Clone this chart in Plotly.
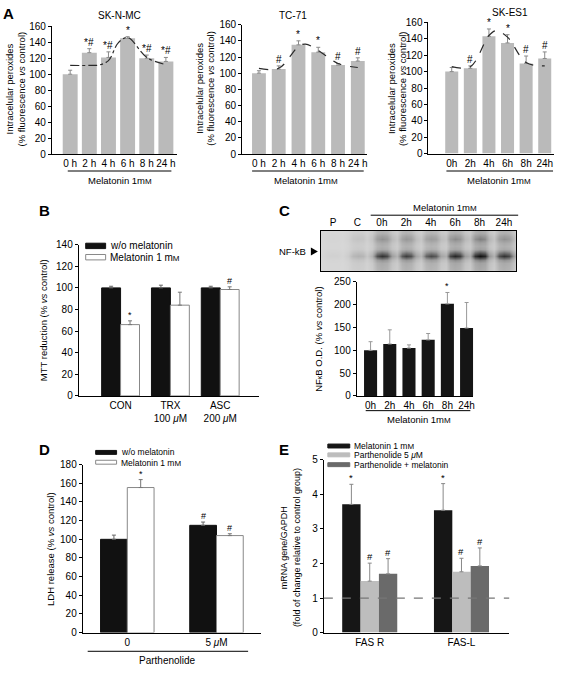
import plotly.graph_objects as go

W, H = 566, 673
FONT = "Liberation Sans, Arial, sans-serif"
MM = "m<span style='font-size:8px'>M</span>"

# ---------------- data ----------------
a_times = ["0 h", "2 h", "4 h", "6 h", "8 h", "24 h"]
a3_times = ["0h", "2h", "4h", "6h", "8h", "24h"]
a_titles = ["SK-N-MC", "TC-71", "SK-ES1"]
a1_vals = [100, 127, 121, 145, 120, 116]
a1_err = [5, 5, 7, 2, 4, 5]
a1_sig = ["", "*#", "*#", "*", "*#", "*#"]
a1_fit_x = [0, 1, 1.5, 2, 2.5, 3, 4, 5]
a1_fit_y = [111, 111, 111.5, 117, 139, 146, 121, 112]

a2_vals = [100, 105, 135, 126, 110, 115]
a2_err = [3, 4, 5, 6, 2, 4]
a2_sig = ["", "#", "*", "*", "#", "#"]
a2_fit_x = [0, 1, 2, 2.35, 3, 4, 5]
a2_fit_y = [106, 106, 133, 136, 128, 112, 107]

a3_vals = [100, 104, 143, 135, 110, 116]
a3_err = [5, 3, 9, 10, 9, 8]
a3_sig = ["", "#", "*", "*", "#", "#"]
a3_fit_x = [0, 1, 2, 2.4, 3, 4, 5]
a3_fit_y = [106, 106, 144, 150, 142, 111, 107]

b_groups = ["CON", "TRX<br>100 <i>μ</i>M", "ASC<br>200 <i>μ</i>M"]
b_without = [100, 100, 100]
b_without_err = [1.5, 2.5, 1.5]
b_with = [66, 84, 98.5]
b_with_err = [3.5, 12, 2.5]
b_with_sig = ["*", "", "#"]

c_times = ["0h", "2h", "4h", "6h", "8h", "24h"]
c_vals = [100, 114, 105, 123, 202, 149]
c_err = [19, 31, 7, 14, 25, 56]
c_sig = ["", "", "", "", "*", ""]

blot_lanes = ["P", "C", "0h", "2h", "4h", "6h", "8h", "24h"]
blot_lane_intensity = [0.05, 0.25, 0.85, 0.8, 0.75, 0.9, 1.0, 0.85]
blot_row_profile = [0.30, 0.42, 0.50, 0.35, 0.30, 0.35, 0.70, 0.95, 0.50, 0.35, 0.32, 0.30]
blot_sub_weight = [0.3, 0.85, 1.0, 0.9, 0.45]

d_groups = ["0", "5 <i>μ</i>M"]
d_without = [100, 115]
d_without_err = [4.5, 3.5]
d_without_sig = ["", "#"]
d_with = [155.5, 104]
d_with_err = [8.5, 2]
d_with_sig = ["*", "#"]

e_groups = ["FAS R", "FAS-L"]
e_mel = [3.71, 3.54]
e_mel_err = [0.58, 0.77]
e_par = [1.49, 1.76]
e_par_err = [0.52, 0.39]
e_comb = [1.70, 1.93]
e_comb_err = [0.44, 0.52]
e_ref = 1

# ---------------- helpers ----------------
def px(x):
    return x / W


def py(y):
    return 1 - y / H


def xdom(a, b):
    return [px(a), px(b)]


def ydom(top, bottom):
    return [py(bottom), py(top)]


annotations = []
shapes = []


def text(x, y, t, size=10, xanchor="center", yanchor="middle", angle=0, color="black"):
    annotations.append(dict(x=px(x), y=py(y), xref="paper", yref="paper", text=t,
                            showarrow=False, xanchor=xanchor, yanchor=yanchor,
                            textangle=angle, font=dict(size=size, family=FONT, color=color)))


def hline(x0, x1, y, color="black", width=1):
    shapes.append(dict(type="line", xref="paper", yref="paper", x0=px(x0), x1=px(x1),
                       y0=py(y), y1=py(y), line=dict(color=color, width=width)))


def rect(x0, y0, x1, y1, fill, line="black"):
    shapes.append(dict(type="rect", xref="paper", yref="paper", x0=px(x0), x1=px(x1),
                       y0=py(y1), y1=py(y0), fillcolor=fill, line=dict(color=line, width=1)))


def sig_ann(xa, ya, x, y, t, size=10):
    if t:
        annotations.append(dict(x=x, y=y, xref=xa, yref=ya, text=t, showarrow=False,
                                yanchor="bottom", yshift=-1,
                                font=dict(size=size, family=FONT, color="black")))


yax_base = dict(showline=True, linecolor="black", linewidth=1, ticks="outside", ticklen=3,
                tickcolor="black", tickwidth=1, showgrid=False, zeroline=False,
                tickfont=dict(size=10, family=FONT, color="black"))
xax_base = dict(showline=True, linecolor="black", linewidth=1, ticks="", showgrid=False,
                zeroline=False, tickfont=dict(size=10, family=FONT, color="black"),
                tickmode="array", tickangle=0)

fig = go.Figure()
layout = {}


def err(arr, color="#777777", width=2):
    return dict(type="data", symmetric=False, array=arr, arrayminus=[0] * len(arr),
                color=color, thickness=1, width=width)


# ---------------- Panel A ----------------
a_sets = [
    (a1_vals, a1_err, a1_sig, a1_fit_x, a1_fit_y, "dashdot", a_times),
    (a2_vals, a2_err, a2_sig, a2_fit_x, a2_fit_y, "dash", a_times),
    (a3_vals, a3_err, a3_sig, a3_fit_x, a3_fit_y, "dash", a3_times),
]
a_xdom = [(52, 178), (243, 368), (430, 556)]
a_ydom = [(20.7, 150.7), (19, 150.7), (16.7, 150.3)]
a_xr = [[-0.96, 5.6], [-0.85, 5.45], [-1.25, 5.5]]
a_bw = [0.78, 0.7, 0.7]
a_title_x = [120, 294, 512]
a_title_y = [10, 10, 7]
a_ytitle_x = [(10, 22), (200, 211), (393, 404)]
a_line = [(68, 172), (253, 365), (448, 555)]
a_mel_x = [120, 307, 501]

for i, (vals, errs, sig, fx, fy, dash, labels) in enumerate(a_sets):
    n = i + 1
    xa = "x" if n == 1 else f"x{n}"
    ya = "y" if n == 1 else f"y{n}"
    pos = list(range(len(labels)))
    fig.add_trace(go.Bar(x=pos, y=vals, width=a_bw[i], marker=dict(color="#bababa", line=dict(width=0)),
                         error_y=err(errs, "#8a8a8a", 2), xaxis=xa, yaxis=ya, showlegend=False))
    fig.add_trace(go.Scatter(x=fx, y=fy, mode="lines", line=dict(color="#2a2a2a", width=1.2, dash=dash, shape="spline"),
                             xaxis=xa, yaxis=ya, showlegend=False))
    for k in range(len(vals)):
        sig_ann(xa, ya, pos[k], vals[k] + errs[k], sig[k], 10)
    kx = "xaxis" if n == 1 else f"xaxis{n}"
    ky = "yaxis" if n == 1 else f"yaxis{n}"
    layout[kx] = dict(xax_base, domain=xdom(*a_xdom[i]), range=a_xr[i], anchor=ya,
                      tickvals=pos, ticktext=labels)
    layout[ky] = dict(yax_base, domain=ydom(*a_ydom[i]), range=[0, 160], dtick=20, anchor=xa)
    text(a_title_x[i], a_title_y[i], a_titles[i], 10)
    text(a_ytitle_x[i][0], 84, "Intracelular peroxides", 9.5, angle=-90)
    text(a_ytitle_x[i][1], 84, "(% fluorescence <i>vs</i> control)", 9.5, angle=-90)
    hline(a_line[i][0], a_line[i][1], 168)
    text(a_mel_x[i], 178, "Melatonin 1" + MM, 9.5)

text(1, 8, "<b>A</b>", 15, xanchor="left")

# ---------------- Panel B ----------------
b_pos = list(range(len(b_groups)))
b_w = 0.38
fig.add_trace(go.Bar(x=b_pos, y=b_without, width=b_w, offset=-b_w,
                     marker=dict(color="#111111", line=dict(color="#111111", width=1)),
                     error_y=err(b_without_err, "#666666", 2), xaxis="x4", yaxis="y4", showlegend=False))
fig.add_trace(go.Bar(x=b_pos, y=b_with, width=b_w, offset=0,
                     marker=dict(color="white", line=dict(color="#888888", width=1)),
                     error_y=err(b_with_err, "#777777", 2), xaxis="x4", yaxis="y4", showlegend=False))
for k in range(len(b_pos)):
    sig_ann("x4", "y4", b_pos[k] + b_w / 2, b_with[k] + b_with_err[k], b_with_sig[k], 9)
layout["xaxis4"] = dict(xax_base, domain=xdom(79, 260), range=[-0.84, 2.78], anchor="y4",
                        tickvals=b_pos, ticktext=b_groups)
layout["yaxis4"] = dict(yax_base, domain=ydom(243, 397), range=[0, 140], dtick=20, anchor="x4")
text(43, 320, "MTT reduction (% <i>vs</i> control)", 9.5, angle=-90)
rect(86, 241.5, 106, 247, "#111111", "#111111")
text(108, 244, "w/o melatonin", 10, xanchor="left")
rect(86, 253, 106, 258.5, "white", "#888888")
text(108, 256, "Melatonin 1 " + MM, 10, xanchor="left")
text(37, 208, "<b>B</b>", 15, xanchor="left")

# ---------------- Panel C ----------------
c_pos = list(range(len(c_times)))
fig.add_trace(go.Bar(x=c_pos, y=c_vals, width=0.68, marker=dict(color="#151515", line=dict(width=0)),
                     error_y=err(c_err, "#999999", 2), xaxis="x5", yaxis="y5", showlegend=False))
for k in range(len(c_pos)):
    sig_ann("x5", "y5", c_pos[k], c_vals[k] + c_err[k], c_sig[k], 9)
layout["xaxis5"] = dict(xax_base, domain=xdom(358, 475), range=[-0.72, 5.35], anchor="y5",
                        tickvals=c_pos, ticktext=c_times)
layout["yaxis5"] = dict(yax_base, domain=ydom(281, 397), range=[0, 250], dtick=50, anchor="x5")
text(320, 339, "NF<span style='font-size:7px'>κ</span>B O.D. (% <i>vs</i> control)", 9.5, angle=-90)
hline(367, 472, 412)
text(420, 421, "Melatonin 1" + MM, 9.5)
text(278, 208, "<b>C</b>", 15, xanchor="left")

# blot
nsub = len(blot_sub_weight)
bx, by, bz = [], [], []
for r, prof in enumerate(blot_row_profile):
    row = []
    for li, inten in enumerate(blot_lane_intensity):
        for sw in blot_sub_weight:
            row.append(min(1.0, 0.06 + prof * inten * sw))
    bz.append(row)
for li in range(len(blot_lanes)):
    for s in range(nsub):
        bx.append(li - 0.5 + (s + 0.5) / nsub)
by = list(range(len(blot_row_profile)))
fig.add_trace(go.Heatmap(x=bx, y=by, z=bz, colorscale=[[0, "#e2e2e2"], [0.45, "#9a9a9a"], [1, "#101010"]],
                         zmin=0, zmax=1, showscale=False, zsmooth="best", xaxis="x6", yaxis="y6",
                         hoverinfo="skip"))
layout["xaxis6"] = dict(xax_base, domain=xdom(322, 518), range=[-0.5, 7.5], anchor="y6", side="top",
                        mirror=True, tickvals=list(range(len(blot_lanes))), ticktext=blot_lanes)
layout["yaxis6"] = dict(showline=True, linecolor="black", linewidth=1, mirror=True, showgrid=False,
                        zeroline=False, showticklabels=False, ticks="", domain=ydom(229, 270),
                        range=[len(blot_row_profile) - 0.5, -0.5], anchor="x6")
text(447, 205, "Melatonin 1" + MM, 9.5)
hline(372, 520, 213)
text(278, 250, "NF-kB", 9.5, xanchor="left")
shapes.append(dict(type="path", xref="paper", yref="paper",
                   path=f"M {px(312)} {py(246)} L {px(319)} {py(250)} L {px(312)} {py(254)} Z",
                   fillcolor="black", line=dict(color="black", width=0)))

# ---------------- Panel D ----------------
d_pos = list(range(len(d_groups)))
d_w = 0.3
fig.add_trace(go.Bar(x=d_pos, y=d_without, width=d_w, offset=-d_w,
                     marker=dict(color="#111111", line=dict(color="#111111", width=1)),
                     error_y=err(d_without_err, "#666666", 2), xaxis="x7", yaxis="y7", showlegend=False))
fig.add_trace(go.Bar(x=d_pos, y=d_with, width=d_w, offset=0,
                     marker=dict(color="white", line=dict(color="#888888", width=1)),
                     error_y=err(d_with_err, "#777777", 2), xaxis="x7", yaxis="y7", showlegend=False))
for k in range(len(d_pos)):
    sig_ann("x7", "y7", d_pos[k] - d_w / 2, d_without[k] + d_without_err[k], d_without_sig[k], 9)
    sig_ann("x7", "y7", d_pos[k] + d_w / 2, d_with[k] + d_with_err[k], d_with_sig[k], 9)
layout["xaxis7"] = dict(xax_base, domain=xdom(83, 262), range=[-0.5, 1.5], anchor="y7",
                        tickvals=d_pos, ticktext=d_groups)
layout["yaxis7"] = dict(yax_base, domain=ydom(467, 638), range=[0, 180], dtick=20, anchor="x7")
text(50, 553, "LDH release (% <i>vs</i> control)", 9.5, angle=-90)
rect(96, 452.5, 117, 456.5, "#111111", "#111111")
text(119, 454, "w/o melatonin", 8.5, xanchor="left")
rect(96, 462.5, 117, 466.5, "white", "#888888")
text(119, 465, "Melatonin 1 " + MM, 8.5, xanchor="left")
hline(88, 249, 657)
text(168, 666, "Parthenolide", 10)
text(37, 452, "<b>D</b>", 15, xanchor="left")

# ---------------- Panel E ----------------
e_pos = list(range(len(e_groups)))
e_w = 0.2
e_series = [(e_mel, e_mel_err, "#161616", "*"), (e_par, e_par_err, "#bdbdbd", "#"),
            (e_comb, e_comb_err, "#6a6a6a", "#")]
for j, (vals, errs, col, s) in enumerate(e_series):
    off = -0.3 + j * e_w
    fig.add_trace(go.Bar(x=e_pos, y=vals, width=e_w, offset=off, marker=dict(color=col, line=dict(width=0)),
                         error_y=err(errs, "#888888", 2), xaxis="x8", yaxis="y8", showlegend=False))
    for k in range(len(e_pos)):
        sig_ann("x8", "y8", e_pos[k] + off + e_w / 2, vals[k] + errs[k], s, 9.5)
layout["xaxis8"] = dict(xax_base, domain=xdom(325, 511), range=[-0.5, 1.52], anchor="y8",
                        tickvals=e_pos, ticktext=e_groups)
layout["yaxis8"] = dict(yax_base, domain=ydom(462, 638), range=[0, 5], dtick=1, anchor="x8")
shapes.append(dict(type="line", xref="x8 domain", yref="y8", x0=0, x1=1, y0=e_ref, y1=e_ref,
                   line=dict(color="#777777", width=1.3, dash="dash"), layer="above"))
text(285, 551, "mRNA gene/GAPDH", 9, angle=-90)
text(298, 551, "(fold of change relative to control group)", 9, angle=-90)
rect(329, 446, 351, 450, "#161616", "#161616")
text(353, 448, "Melatonin 1 " + MM, 8.5, xanchor="left")
rect(329, 455, 351, 459, "#bdbdbd", "#bdbdbd")
text(353, 457, "Parthenolide 5 <i>μ</i>M", 8.5, xanchor="left")
rect(329, 465, 351, 469, "#6a6a6a", "#6a6a6a")
text(353, 467, "Parthenolide + melatonin", 8.5, xanchor="left")
text(278, 452, "<b>E</b>", 15, xanchor="left")

fig.update_layout(
    width=W, height=H, margin=dict(l=0, r=0, t=0, b=0),
    paper_bgcolor="white", plot_bgcolor="white",
    barmode="overlay", showlegend=False,
    font=dict(family=FONT, size=10, color="black"),
    annotations=annotations, shapes=shapes,
    **layout,
)

fig.write_html("out.html", config={"displayModeBar": False},
               post_script="document.body.style.margin='0';document.body.style.overflow='hidden';")
